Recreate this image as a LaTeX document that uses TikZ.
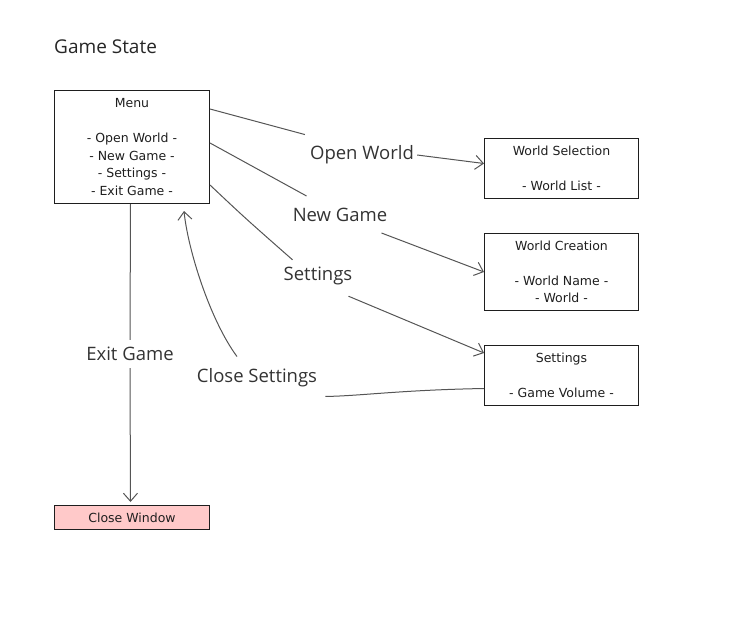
\documentclass[tikz,border=0pt]{standalone}
\usepackage{fontspec}
\setmainfont{Open Sans}
\newfontfamily\boxfont{DejaVu Sans}
\usetikzlibrary{arrows.meta}
\definecolor{pinkfill}{HTML}{FFC9C9}
\definecolor{edgegray}{HTML}{555555}
\definecolor{boxline}{HTML}{1E1E1E}
\begin{document}
\begin{tikzpicture}[x=1pt,y=-1pt,
  box/.style={draw=boxline, line width=1pt, minimum width=155pt, align=center,
    font=\boxfont\fontsize{12.5}{17.5}\selectfont, text=boxline, inner sep=4pt, anchor=north west},
  lbl/.style={font=\fontsize{18.5}{22}\selectfont, text=black!80, inner sep=3pt},
  conn/.style={draw=edgegray, line width=1pt},
  arr/.style={conn, -{Straight Barb[length=8pt,width=14pt]}}
]
\useasboundingbox (0,0) rectangle (737,627);
\node[anchor=west, font=\fontsize{19}{22}\selectfont, text=black!85, inner sep=0pt] (title) at (54,47) {Game State};

\node[box, minimum height=113pt] (menu) at (54,90)
  {Menu\\[17.5pt]- Open World -\\- New Game -\\- Settings -\\- Exit Game -};
\node[box, minimum width=154pt, minimum height=60pt] (ws) at (484,138)
  {World Selection\\[17.5pt]- World List -};
\node[box, minimum width=154pt, minimum height=77pt] (wc) at (484,233)
  {World Creation\\[17.5pt]- World Name -\\- World -};
\node[box, minimum width=154pt, minimum height=60pt] (st) at (484,345)
  {Settings\\[17.5pt]- Game Volume -};
\node[box, fill=pinkfill, minimum height=24pt, inner sep=2pt] (cw) at (54,505) {Close Window};

\node[lbl] (ow) at (362,155) {Open World};
\node[lbl] (ng) at (340,215) {New Game};
\node[lbl] (sl) at (318,276) {Settings};
\node[lbl] (cs) at (257,378) {Close Settings};
\node[lbl, inner sep=7pt] (eg) at (130,354) {Exit Game};

% Open World
\draw[conn] ([yshift=-19pt]menu.north east) -- ([shift={(-2pt,8pt)}]ow.north west);
\draw[arr] (ow.east) -- ([yshift=5pt]ws.west);
% New Game
\draw[conn] ([yshift=-53pt]menu.north east) -- ([shift={(17pt,9pt)}]ng.north west);
\draw[arr] ([shift={(-9pt,-8pt)}]ng.south east) -- (wc.west);
% Settings
\draw[conn] ([yshift=-95pt]menu.north east) .. controls (245,218) .. ([shift={(12pt,4pt)}]sl.north west);
\draw[arr] ([shift={(-7pt,-8pt)}]sl.south east) -- ([yshift=-8pt]st.north west);
% Close Settings
\draw[conn] ([yshift=-13pt]st.west) .. controls (400,390) and (360,396) .. ([shift={(5pt,-6pt)}]cs.south east);
\draw[arr] ([shift={(-20pt,9pt)}]cs.north) .. controls (210,320) and (188,250) .. ([shift={(52pt,-7pt)}]menu.south);
% Exit Game
\draw[conn] ([xshift=-1.5pt]menu.south) -- (eg.north);
\draw[arr] (eg.south) -- ([shift={(-1.5pt,3pt)}]cw.north);
\end{tikzpicture}
\end{document}
